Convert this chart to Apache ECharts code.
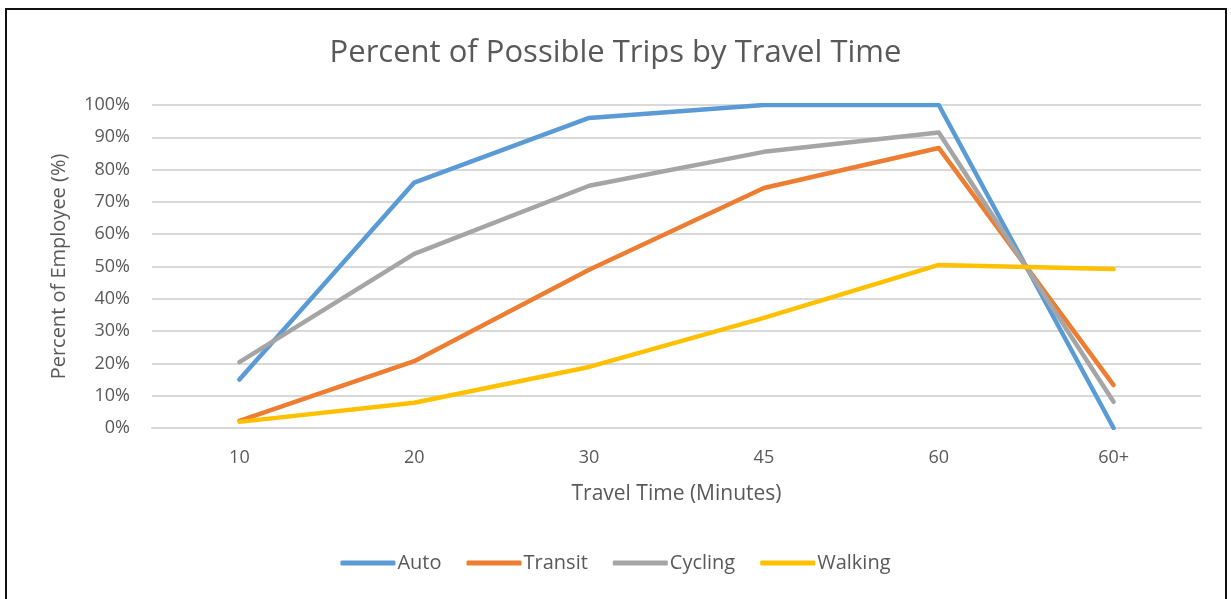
<!DOCTYPE html>
<html>
<head>
<meta charset="utf-8">
<script src="https://cdn.jsdelivr.net/npm/echarts@6/dist/echarts.min.js"></script>
<style>
  html, body { margin: 0; padding: 0; background: #fff; }
  #frame {
    position: absolute; left: 5px; top: 8px; width: 1222px; height: 600px;
    border: 2px solid #111; box-sizing: border-box;
  }
  #chart { position: absolute; left: 0; top: 0; width: 1231px; height: 599px; }
</style>
</head>
<body>
<div id="frame"></div>
<div id="chart"></div>
<script>
// travel time buckets
var categories = ['10', '20', '30', '45', '60', '60+']
// percent of employees reachable, per mode
var auto = [15, 76, 96, 100, 100, 0]
var transit = [2.2, 20.7, 49, 74.3, 86.7, 13.3]
var cycling = [20.4, 53.9, 75, 85.5, 91.5, 8.1]
var walking = [1.9, 7.8, 18.9, 34.1, 50.5, 49.2]

var textColor = '#595959'
var fontName = '"Open Sans", "Noto Sans", sans-serif'

function lineSeries (name, data, color) {
  return {
    name: name,
    type: 'line',
    data: data,
    symbol: 'none',
    lineStyle: { width: 4.5, color: color, cap: 'round', join: 'round' },
    itemStyle: { color: color }
  }
}

var option = {
  animation: false,
  textStyle: { fontFamily: fontName },
  title: {
    text: 'Percent of Possible Trips by Travel Time',
    left: 'center',
    top: 33,
    textStyle: { fontSize: 31, fontWeight: 'normal', color: textColor, fontFamily: fontName }
  },
  grid: { left: 152, right: 30, top: 105, bottom: 171 },
  legend: {
    bottom: 21,
    left: 'center',
    itemWidth: 55,
    itemHeight: 5,
    itemGap: 25,
    icon: 'roundRect',
    textStyle: { fontSize: 20, color: textColor, fontFamily: fontName, padding: [0, 0, 0, -3] },
    data: ['Auto', 'Transit', 'Cycling', 'Walking']
  },
  xAxis: {
    type: 'category',
    data: categories,
    boundaryGap: true,
    name: 'Travel Time (Minutes)',
    nameLocation: 'middle',
    nameGap: 56,
    nameTextStyle: { fontSize: 21, color: textColor },
    axisLine: { lineStyle: { color: '#d9d9d9', width: 2 } },
    axisTick: { show: false },
    axisLabel: { fontSize: 18, color: textColor, margin: 21 }
  },
  yAxis: {
    type: 'value',
    min: 0,
    max: 100,
    interval: 10,
    name: 'Percent of Employee (%)',
    nameLocation: 'middle',
    nameGap: 83,
    nameTextStyle: { fontSize: 20, color: textColor },
    axisLine: { show: false },
    axisTick: { show: false },
    axisLabel: { fontSize: 18, color: textColor, margin: 22, formatter: '{value}%' },
    splitLine: { lineStyle: { color: '#d9d9d9', width: 2 } }
  },
  series: [
    lineSeries('Auto', auto, '#5B9BD5'),
    lineSeries('Transit', transit, '#ED7D31'),
    lineSeries('Cycling', cycling, '#A5A5A5'),
    lineSeries('Walking', walking, '#FFC000')
  ]
}

var chart = echarts.init(document.getElementById('chart'))
chart.setOption(option)
</script>
</body>
</html>
